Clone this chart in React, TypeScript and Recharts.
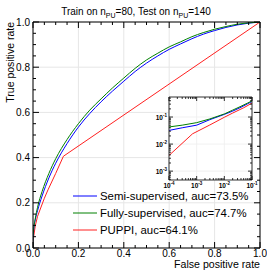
import React from 'react';
import { LineChart, Line, XAxis, YAxis, CartesianGrid } from 'recharts';

// ROC data (false positive rate -> true positive rate)
const fpr = [0, 0.0001, 0.0003, 0.001, 0.003, 0.01, 0.02, 0.04, 0.07, 0.1, 0.15, 0.2, 0.25, 0.3, 0.35, 0.4, 0.45, 0.5, 0.55, 0.6, 0.65, 0.7, 0.75, 0.8, 0.85, 0.9, 0.95, 1.0];
const semiTpr = [0, 0.032, 0.04, 0.05, 0.08, 0.125, 0.165, 0.23, 0.31, 0.375, 0.462, 0.535, 0.595, 0.647, 0.694, 0.738, 0.781, 0.818, 0.85, 0.879, 0.903, 0.926, 0.946, 0.962, 0.976, 0.987, 0.995, 1.0];
const fullyTpr = [0, 0.043, 0.05, 0.062, 0.085, 0.13, 0.18, 0.25, 0.33, 0.395, 0.48, 0.55, 0.61, 0.66, 0.708, 0.752, 0.795, 0.832, 0.862, 0.89, 0.912, 0.935, 0.953, 0.968, 0.98, 0.99, 0.996, 1.0];
const puppiFpr = [0, 0.0001, 0.00071, 0.003, 0.01, 0.02, 0.05, 0.066, 0.1, 0.134, 1.0];
const puppiTpr = [0, 0.0038, 0.024, 0.051, 0.098, 0.14, 0.22, 0.257, 0.33, 0.406, 1.0];

const seriesNames = ['Semi-supervised, auc=73.5%', 'Fully-supervised, auc=74.7%', 'PUPPI, auc=64.1%'];
const seriesColors = ['#0000ff', '#008000', '#ff2020'];

const mainTicks = [0, 0.2, 0.4, 0.6, 0.8, 1.0];
const mainTickLabels = ['0.0', '0.2', '0.4', '0.6', '0.8', '1.0'];
const minorTicks = [0, 0.05, 0.1, 0.15, 0.2, 0.25, 0.3, 0.35, 0.4, 0.45, 0.5, 0.55, 0.6, 0.65, 0.7, 0.75, 0.8, 0.85, 0.9, 0.95, 1.0];

const insetXDecades = [1e-4, 1e-3, 1e-2, 1e-1];
const insetXExps = ['-4', '-3', '-2', '-1'];
const insetYDecades = [1e-3, 1e-2, 1e-1];
const insetYExps = ['-3', '-2', '-1'];
const insetXDomain = [1e-4, 1e-1];
const insetYDomain = [4.7e-4, 0.55];

const titleText = ['Train on n', 'PU', '=80, Test on n', 'PU', '=140'];
const xLabel = 'False positive rate';
const yLabel = 'True positive rate';

const FONT = '"Liberation Sans", Arial, Helvetica, sans-serif';

const semiData = fpr.map((x, i) => ({ x, y: semiTpr[i] }));
const fullyData = fpr.map((x, i) => ({ x, y: fullyTpr[i] }));
const puppiData = puppiFpr.map((x, i) => ({ x, y: puppiTpr[i] }));

const inRange = (d: { x: number; y: number }) => d.x >= insetXDomain[0] && d.x <= insetXDomain[1] && d.y > 0;
const semiInset = semiData.filter(inRange);
const fullyInset = fullyData.filter(inRange);
const puppiInset = puppiData.filter(inRange);

const logTicks = (lo: number, hi: number) => {
  const out: number[] = [];
  for (let e = Math.floor(Math.log10(lo)); e <= Math.ceil(Math.log10(hi)); e++) {
    for (let k = 1; k <= 9; k++) {
      const v = k * Math.pow(10, e);
      if (v >= lo * 0.9999 && v <= hi * 1.0001) out.push(v);
    }
  }
  return out;
};

const insetXTicks = logTicks(insetXDomain[0], insetXDomain[1]);
const insetYTicks = logTicks(insetYDomain[0], insetYDomain[1]);

const isMajorLin = (v: number) => Math.abs(v * 5 - Math.round(v * 5)) < 1e-6;
const majorIdx = (v: number) => mainTicks.findIndex((t) => Math.abs(t - v) < 1e-6);
const isMajorLog = (v: number) => Math.abs(Math.log10(v) - Math.round(Math.log10(v))) < 1e-6;

const MAJ = 6;
const MIN = 3;

const BottomTick = (p: any) => {
  const { x, y, payload } = p;
  const v = payload.value;
  const m = isMajorLin(v);
  const i = majorIdx(v);
  return (
    <g>
      <line x1={x} x2={x} y1={y} y2={y - (m ? MAJ : MIN)} stroke="#000" strokeWidth={1} />
      {m && i >= 0 && (
        <text x={x} y={y + 8.5} textAnchor="middle" fontSize={10} fontFamily={FONT} fill="#000">
          {mainTickLabels[i]}
        </text>
      )}
    </g>
  );
};
const TopTick = (p: any) => {
  const { x, y, payload } = p;
  const m = isMajorLin(payload.value);
  return <line x1={x} x2={x} y1={y} y2={y + (m ? MAJ : MIN)} stroke="#000" strokeWidth={1} />;
};
const LeftTick = (p: any) => {
  const { x, y, payload } = p;
  const v = payload.value;
  const m = isMajorLin(v);
  const i = majorIdx(v);
  return (
    <g>
      <line x1={x} x2={x + (m ? MAJ : MIN)} y1={y} y2={y} stroke="#000" strokeWidth={1} />
      {m && i >= 0 && (
        <text x={x - 3} y={y + 3.6} textAnchor="end" fontSize={10} fontFamily={FONT} fill="#000">
          {mainTickLabels[i]}
        </text>
      )}
    </g>
  );
};
const RightTick = (p: any) => {
  const { x, y, payload } = p;
  const m = isMajorLin(payload.value);
  return <line x1={x} x2={x - (m ? MAJ : MIN)} y1={y} y2={y} stroke="#000" strokeWidth={1} />;
};

const IMAJ = 4;
const IMIN = 2;
const InsetBottomTick = (p: any) => {
  const { x, y, payload } = p;
  const v = payload.value;
  const m = isMajorLog(v);
  const i = insetXDecades.findIndex((d) => Math.abs(d - v) / d < 1e-6);
  return (
    <g>
      <line x1={x} x2={x} y1={y} y2={y - (m ? IMAJ : IMIN)} stroke="#000" strokeWidth={0.8} />
      {m && i >= 0 && (
        <text x={x} y={y + 7.5} textAnchor="middle" fontSize={6.5} fontFamily={FONT} fontWeight="bold" fill="#000">
          <tspan>10</tspan>
          <tspan dy={-2.6} fontSize={4.5}>{insetXExps[i]}</tspan>
        </text>
      )}
    </g>
  );
};
const InsetTopTick = (p: any) => {
  const { x, y, payload } = p;
  const m = isMajorLog(payload.value);
  return <line x1={x} x2={x} y1={y} y2={y + (m ? IMAJ : IMIN)} stroke="#000" strokeWidth={0.8} />;
};
const InsetLeftTick = (p: any) => {
  const { x, y, payload } = p;
  const v = payload.value;
  const m = isMajorLog(v);
  const i = insetYDecades.findIndex((d) => Math.abs(d - v) / d < 1e-6);
  return (
    <g>
      <line x1={x} x2={x + (m ? IMAJ : IMIN)} y1={y} y2={y} stroke="#000" strokeWidth={0.8} />
      {m && i >= 0 && (
        <text x={x - 2} y={y + 2.5} textAnchor="end" fontSize={6.5} fontFamily={FONT} fontWeight="bold" fill="#000">
          <tspan>10</tspan>
          <tspan dy={-2.6} fontSize={4.5}>{insetYExps[i]}</tspan>
        </text>
      )}
    </g>
  );
};
const InsetRightTick = (p: any) => {
  const { x, y, payload } = p;
  const m = isMajorLog(payload.value);
  return <line x1={x} x2={x - (m ? IMAJ : IMIN)} y1={y} y2={y} stroke="#000" strokeWidth={0.8} />;
};

export default function App() {
  return (
    <div style={{ position: 'absolute', left: 0, top: 0, width: 267, height: 273, background: '#fff', fontFamily: FONT }}>
      <div style={{ position: 'absolute', left: 0, top: 0 }}>
        <LineChart width={267} height={273} margin={{ top: 21, left: 32, right: 6, bottom: 24 }}>
          <CartesianGrid verticalValues={mainTicks} horizontalValues={mainTicks} stroke="#e6e6e6" strokeWidth={1} />
          <XAxis dataKey="x" type="number" domain={[0, 1]} ticks={minorTicks} interval={0} height={1} tickSize={0} tickMargin={0} tickLine={false} tick={BottomTick} axisLine={{ stroke: '#000', strokeWidth: 1 }} allowDataOverflow />
          <XAxis xAxisId="top" orientation="top" dataKey="x" type="number" domain={[0, 1]} ticks={minorTicks} interval={0} height={1} tickSize={0} tickMargin={0} tickLine={false} tick={TopTick} axisLine={{ stroke: '#000', strokeWidth: 1 }} allowDataOverflow />
          <YAxis type="number" domain={[0, 1]} ticks={minorTicks} interval={0} width={1} tickSize={0} tickMargin={0} tickLine={false} tick={LeftTick} axisLine={{ stroke: '#000', strokeWidth: 1 }} allowDataOverflow />
          <YAxis yAxisId="right" orientation="right" type="number" domain={[0, 1]} ticks={minorTicks} interval={0} width={1} tickSize={0} tickMargin={0} tickLine={false} tick={RightTick} axisLine={{ stroke: '#000', strokeWidth: 1 }} allowDataOverflow />
          <Line data={puppiData} dataKey="y" type="linear" stroke={seriesColors[2]} strokeWidth={1} dot={false} isAnimationActive={false} />
          <Line data={semiData} dataKey="y" type="monotone" stroke={seriesColors[0]} strokeWidth={1} dot={false} isAnimationActive={false} />
          <Line data={fullyData} dataKey="y" type="monotone" stroke={seriesColors[1]} strokeWidth={1} dot={false} isAnimationActive={false} />
        </LineChart>
      </div>
      <div style={{ position: 'absolute', left: 140, top: 90 }}>
        <LineChart width={120} height={100} margin={{ top: 6, left: 28, right: 7, bottom: 9 }}>
          <CartesianGrid verticalValues={insetXDecades} horizontalValues={insetYDecades} stroke="#eeeeee" strokeWidth={0.8} fill="#ffffff" />
          <XAxis dataKey="x" type="number" scale="log" domain={insetXDomain} ticks={insetXTicks} interval={0} height={1} tickSize={0} tickMargin={0} tickLine={false} tick={InsetBottomTick} axisLine={{ stroke: '#333', strokeWidth: 1 }} allowDataOverflow />
          <XAxis xAxisId="top" orientation="top" dataKey="x" type="number" scale="log" domain={insetXDomain} ticks={insetXTicks} interval={0} height={1} tickSize={0} tickMargin={0} tickLine={false} tick={InsetTopTick} axisLine={{ stroke: '#333', strokeWidth: 1 }} allowDataOverflow />
          <YAxis type="number" scale="log" domain={insetYDomain} ticks={insetYTicks} interval={0} width={1} tickSize={0} tickMargin={0} tickLine={false} tick={InsetLeftTick} axisLine={{ stroke: '#333', strokeWidth: 1 }} allowDataOverflow />
          <YAxis yAxisId="right" orientation="right" type="number" scale="log" domain={insetYDomain} ticks={insetYTicks} interval={0} width={1} tickSize={0} tickMargin={0} tickLine={false} tick={InsetRightTick} axisLine={{ stroke: '#333', strokeWidth: 1 }} allowDataOverflow />
          <Line data={puppiInset} dataKey="y" type="linear" stroke={seriesColors[2]} strokeWidth={1} dot={false} isAnimationActive={false} />
          <Line data={semiInset} dataKey="y" type="linear" stroke={seriesColors[0]} strokeWidth={1} dot={false} isAnimationActive={false} />
          <Line data={fullyInset} dataKey="y" type="linear" stroke={seriesColors[1]} strokeWidth={1} dot={false} isAnimationActive={false} />
        </LineChart>
      </div>
      <svg width={267} height={273} style={{ position: 'absolute', left: 0, top: 0, pointerEvents: 'none' }}>
        <text x={136} y={15} textAnchor="middle" fontSize={10} fontFamily={FONT} fill="#000">
          <tspan>{titleText[0]}</tspan>
          <tspan dy={2.5} fontSize={7}>{titleText[1]}</tspan>
          <tspan dy={-2.5}>{titleText[2]}</tspan>
          <tspan dy={2.5} fontSize={7}>{titleText[3]}</tspan>
          <tspan dy={-2.5}>{titleText[4]}</tspan>
        </text>
        <text x={260} y={268} textAnchor="end" fontSize={10.6} fontFamily={FONT} fill="#000">{xLabel}</text>
        <text x={14} y={22} textAnchor="end" fontSize={10.5} fontFamily={FONT} fill="#000" transform="rotate(-90 14 22)">{yLabel}</text>
        {seriesNames.map((name, i) => (
          <g key={name}>
            <line x1={73} x2={97} y1={196 + i * 17} y2={196 + i * 17} stroke={seriesColors[i]} strokeWidth={1} />
            <text x={100} y={200 + i * 17} fontSize={11.4} fontFamily={FONT} fill="#000">{name}</text>
          </g>
        ))}
      </svg>
    </div>
  );
}
